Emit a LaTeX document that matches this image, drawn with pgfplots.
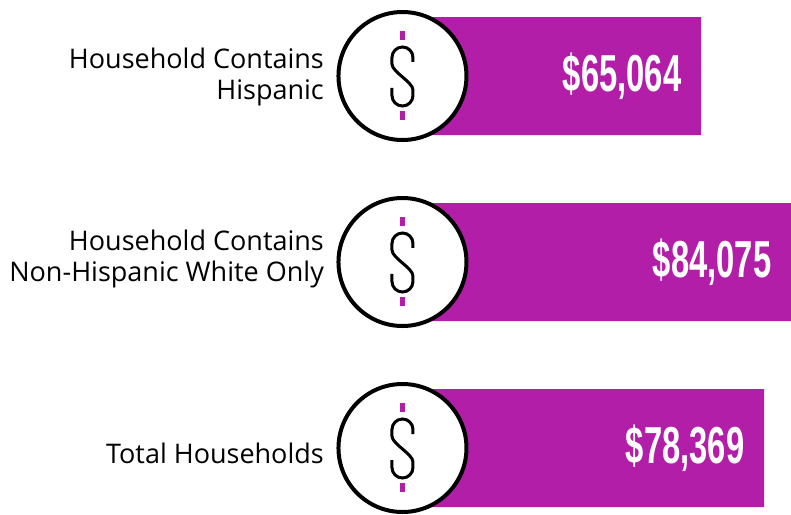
\documentclass[border=0pt]{standalone}
\usepackage{pgfplots}
\pgfplotsset{compat=1.18}
\usepackage{fontspec}
\setmainfont{Open Sans}
\newfontfamily\valfont{Liberation Sans}
\definecolor{barc}{HTML}{B31EA8}
\newcommand{\icon}[1]{%
\begin{scope}[shift={(#1)},x=1pt,y=1pt]
\fill[barc] (-2.5,36) rectangle (2.5,45);
\fill[barc] (-2.5,-35) rectangle (2.5,-44);
\draw[black,line width=3pt] (10.5,14) -- (10.5,18.5) arc[start angle=0,end angle=180,radius=10.5]
 -- (-10.5,12) .. controls (-10.5,4) and (10.5,-6) .. (10.5,-14) -- (10.5,-19.5)
 arc[start angle=0,end angle=-180,radius=10.5] -- (-10.5,-12);
\end{scope}}
\begin{document}
\begin{tikzpicture}
\useasboundingbox (0,0) rectangle (791pt,514pt);
\begin{axis}[
  at={(0,0)},anchor=south west,
  scale only axis,width=791pt,height=514pt,
  hide axis,clip=false,
  xmin=-83016,xmax=84072,
  ymin=0,ymax=514,y dir=reverse,
  /pgf/number format/assume math mode=true,
]
\addplot[xbar,bar shift=0pt,bar width=118pt,fill=barc,draw=none,
  point meta=x,
  nodes near coords={\scalebox{0.63}[1]{\valfont\bfseries\fontsize{52}{52}\selectfont\$\pgfmathprintnumber[fixed,1000 sep={,},precision=0]{\pgfplotspointmeta}}},
  nodes near coords align={anchor=east,xshift=-19.5pt,text=white,inner sep=0pt},
] coordinates {(65064,76) (84075,262) (78369,448)};
\addplot[only marks,mark=*,mark size=64pt,mark options={draw=black,fill=white,line width=4pt}]
  coordinates {(2000,76) (2000,262) (2000,448)};
\coordinate (c1) at (axis cs:2000,76);
\coordinate (c2) at (axis cs:2000,262);
\coordinate (c3) at (axis cs:2000,448);
\node[anchor=east,align=right,font=\fontsize{27}{31}\selectfont,inner sep=0pt] at (axis cs:-14570,77) {Household Contains\\Hispanic};
\node[anchor=east,align=right,font=\fontsize{27}{31}\selectfont,inner sep=0pt] at (axis cs:-14570,259) {Household Contains\\Non-Hispanic White Only};
\node[anchor=east,align=right,font=\fontsize{27}{31}\selectfont,inner sep=0pt] at (axis cs:-14570,453) {Total Households};
\end{axis}
\icon{c1}\icon{c2}\icon{c3}
\end{tikzpicture}
\end{document}
